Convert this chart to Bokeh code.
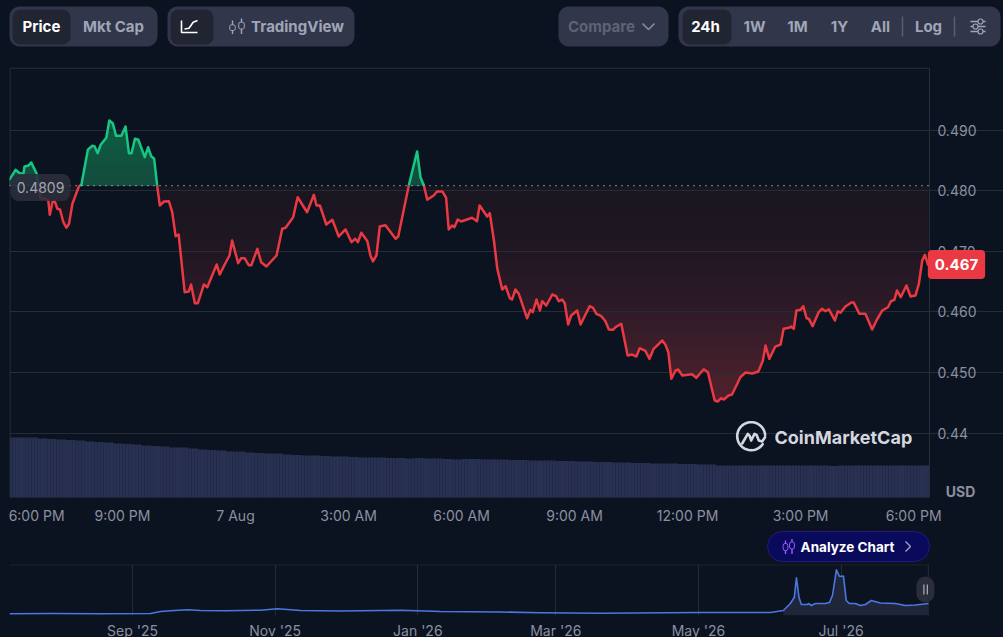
from bokeh.plotting import figure
from bokeh.layouts import column
from bokeh.models import Range1d, FixedTicker, Label, BoxAnnotation
from bokeh.core.properties import value
from bokeh.embed import file_html
from bokeh.resources import INLINE
import numpy as np

# ---- data ----
hours = [0,.16,.27,.37,.40,.49,.58,.67,.72,.82,.93,1.03,1.07,1.14,1.20,1.27,1.34,1.43,1.51,1.58,1.67,1.84,1.91,
 2.08,2.20,2.26,2.34,2.42,2.57,2.65,2.74,2.83,2.97,3.08,3.17,3.24,3.33,3.42,3.59,3.68,3.76,3.84,3.92,3.99,
 4.10,4.23,4.32,4.41,4.49,4.65,4.76,4.82,4.92,5.00,5.16,5.25,5.50,5.58,5.73,5.84,5.91,6.07,6.15,6.24,6.35,6.42,
 6.58,6.68,6.82,7.09,7.24,7.33,7.53,7.65,7.90,8.08,8.15,8.24,8.41,8.57,8.74,8.92,9.08,9.18,9.25,9.34,9.50,9.58,
 9.65,9.74,9.83,9.98,10.25,10.32,10.60,10.82,10.91,11.0,11.09,11.26,11.35,11.49,11.59,11.66,11.75,11.81,11.90,11.99,
 12.28,12.41,12.48,12.68,12.75,12.86,12.95,13.08,13.17,13.28,13.34,13.43,13.52,13.74,13.83,13.89,13.99,14.08,14.14,
 14.25,14.41,14.51,14.58,14.67,14.74,14.83,14.91,15.07,15.16,15.40,15.49,15.58,15.71,15.82,15.91,16.02,16.09,16.24,
 16.41,16.53,16.64,16.73,16.88,16.99,17.10,17.33,17.41,17.49,17.57,17.68,17.75,17.86,18.12,18.23,18.43,18.54,18.72,
 18.80,18.89,18.96,19.09,19.18,19.32,19.40,19.54,19.72,19.88,20.0,20.07,20.17,20.33,20.47,20.55,20.69,20.75,20.82,
 20.89,21.0,21.07,21.16,21.22,21.32,21.48,21.57,21.66,21.75,21.91,21.99,22.06,22.19,22.35,22.41,22.56,22.72,22.90,
 23.03,23.17,23.32,23.40,23.49,23.56,23.66,23.81,23.92,24.05,24.14,24.23,24.30,24.39]
prices = [.48185,.4835,.48294,.48289,.48405,.48416,.48471,.4835,.48289,.47876,.47876,.47843,.47607,.47815,.47831,.47706,.47694,.47484,.47392,.47458,.47788,.48074,.48107,
 .48681,.48747,.48736,.48625,.48764,.48879,.49165,.49121,.48912,.48912,.49066,.48625,.48625,.48863,.48846,.48559,.48724,.48575,.48532,.48091,.4776,
 .47826,.47831,.47649,.47253,.47281,.46327,.46339,.46454,.46145,.46145,.46454,.4641,.46785,.4662,.46806,.46934,.47182,.46806,.46889,.46889,.46773,.46773,
 .47044,.46823,.46752,.46934,.47375,.47392,.47567,.47897,.47649,.47937,.4776,.4776,.47446,.47524,.47248,.47364,.47154,.4721,.47154,.47309,.4717,.46934,
 .46835,.46934,.47413,.47435,.4721,.47248,.48091,.48653,.48228,.48091,.47854,.47926,.47992,.47992,.47888,.47364,.4743,.47402,.47529,.47496,
 .47557,.47501,.4776,.47578,.47633,.47182,.46714,.46372,.46426,.46228,.46206,.46372,.463,.45897,.46036,.45996,.46206,.46025,.46178,
 .46107,.46289,.46261,.46178,.46206,.46145,.45793,.45942,.46025,.45793,.46096,.46069,.4597,.4593,.45848,.4571,.45705,.45749,.45805,
 .45281,.45297,.45264,.45401,.45358,.45226,.45392,.45529,.45463,.45335,.44896,.45033,.45049,.4495,.44972,.44912,.45054,.45005,.44537,
 .4452,.44575,.44553,.4462,.44636,.44813,.44922,.45,.44983,.45016,.45198,.45446,.45226,.45429,.45463,.45722,.45739,.4576,.45722,
 .46025,.46036,.46096,.45897,.45887,.45765,.45996,.46053,.46013,.46046,.45859,.46013,.45987,.46091,.46157,.46157,.4597,.4597,.4571,
 .45876,.46025,.46079,.46178,.46201,.46355,.46244,.46438,.46256,.46272,.46466,.46851,.46945,.46768]
volume_15min = [60,60,60,59,58.5, 58,57.5,57,56,55.5, 55,54,53.5,53,52, 51.5,51,50,50,49, 48,47.5,47,46,46,
 45,44.5,44,44,43, 42.5,42,42,41.5,41, 41,40.5,40,40,40, 39.5,39.5,39,39.5,39, 39,38.5,38,38.5,38.5,
 38,38,38,37.5,37.5, 37,37,37,36.5,36.5, 36,36,35.5,35.5,35, 35,34.5,34.5,34,34, 34,33.5,33.5,33,33,
 32,32,32,32,32, 32,32,32,32,32, 32,32,31.5,32,32, 32,32,32,32,32, 32,32,32]
baseline_price = 0.4809
last_label = "0.467"
price_ticks = [0.44,0.45,0.46,0.47,0.48,0.49]
price_labels = ["0.44","0.450","0.460","0.470","0.480","0.490"]
time_ticks = [0.72,3,6,9,12,15,18,21,24]
time_labels = ["6:00 PM","9:00 PM","7 Aug","3:00 AM","6:00 AM","9:00 AM","12:00 PM","3:00 PM","6:00 PM"]
mini_days = [-52.6,-35.1,-13.7,7.7,12,16.2,23.5,29.1,39.8,54.7,62,71.8,88.9,114.6,131.7,157.3,174.4,200.1,242.8,272.8,278.3,
 281.3,283,283.9,285,286,288.6,289,290.3,292,296.3,298,299.3,301,302.3,304,305.2,306.5,309.1,311.2,313.4,315.9,319.8,326.2,330.5,334.8,340.3]
mini_vals = [1.7,2,1.7,2,4,4.7,5.7,5,4.7,5.3,6.7,5,4.5,5.3,4,3.5,2.7,2.3,3,3,5,
 12,18.3,37.7,18,11,11,12,10,12,12,13,20,45.7,39,39.5,15,12,12,10,11,15,12.5,12,10,10.5,12]
mini_ticks = [0,61,122,181,242,303]
mini_labels = ["Sep '25","Nov '25","Jan '26","Mar '26","May '26","Jul '26"]

BG = "#0c1320"
GRID = "#262b38"
EDGE = "#2b303d"
GREEN = "#16c784"
RED = "#ea3943"
AXIS = "#8b90a0"
FONT = "Inter"
W = 1003

# ---- top control bar ----
def chrome(h, y0, y1):
    f = figure(width=W, height=h, output_backend="svg", toolbar_location=None,
               x_range=Range1d(0, W), y_range=Range1d(y1, y0), min_border=0, frame_align=False,
               background_fill_color=BG, border_fill_color=BG, outline_line_color=None)
    f.xaxis.visible = False; f.yaxis.visible = False; f.grid.visible = False
    return f

def box(f, l, r, t, b, color, radius=10, line=None):
    f.add_layout(BoxAnnotation(left=l, right=r, top=t, bottom=b, fill_color=color, fill_alpha=1,
                               line_color=line, line_alpha=1 if line else 0, border_radius=radius, level="underlay"))

def txt(f, x, y, s, color, size=15, bold=True, align="center"):
    f.text([x], [y], text=[s], text_color=color, text_font=value(FONT), text_font_size=f"{size}px",
           text_font_style="bold" if bold else "normal", text_align=align, text_baseline="middle")

top = chrome(66, 0, 66)
OUT, INN, T2 = "#32364a", "#212431", "#a0a5b8"
box(top, 9, 157, 46, 6, OUT); box(top, 12, 70, 44, 9, INN, 8)
box(top, 167, 354, 46, 6, OUT); box(top, 170, 213, 44, 9, INN, 8)
box(top, 558, 668, 46, 6, OUT)
box(top, 678, 1000, 46, 6, OUT); box(top, 682, 731, 44, 9, INN, 8)
txt(top, 41, 26, "Price", "#ffffff")
txt(top, 113, 26, "Mkt Cap", T2)
txt(top, 297, 26, "TradingView", T2)
txt(top, 601, 26, "Compare", "#5f6375")
for x, s, c in [(705,"24h","#ffffff"),(754,"1W",T2),(797,"1M",T2),(839,"1Y",T2),(880,"All",T2),(928,"Log",T2)]:
    txt(top, x, 26, s, c)
for x in (902, 954):
    top.line([x, x], [16, 36], line_color="#5a5e70", line_width=1.5)
top.line([181,181,197], [20,32,32], line_color="#ffffff", line_width=1.6)
top.line([184,188.5,192.7,197], [28.5,27.7,21.7,20], line_color="#ffffff", line_width=1.6)
for xc, t, b, wt, wb in [(232,24.3,30,20,33.5),(241,21.7,28.5,18,33.5)]:
    top.line([xc,xc],[wt,t],line_color=T2,line_width=1.4); top.line([xc,xc],[b,wb],line_color=T2,line_width=1.4)
    box(top, xc-2.8, xc+2.8, b, t, OUT, 2, T2)
top.line([642,648,654],[23,29,23],line_color="#8a8ea0",line_width=1.5)
for y, xc in [(21,980),(26,975),(31,980)]:
    top.line([970,985],[y,y],line_color=T2,line_width=1.3)
    top.scatter([xc],[y],size=5,fill_color=OUT,line_color=T2,line_width=1.2)

# ---- main chart ----
# The frame runs to the page edge; the price axis sits at the chart's right edge.
HOUR_END, PPX = 24.42, 6050.0
p = figure(width=W, height=464, output_backend="svg", toolbar_location=None,
           x_range=Range1d(0, 26.387), y_range=Range1d(0.42934, 0.50041),
           y_axis_location="right", min_border_left=9, min_border_right=0,
           min_border_top=1, min_border_bottom=33, frame_align=False,
           background_fill_color=BG, border_fill_color=BG, outline_line_color=None)
def fx(x): return (np.asarray(x, float) - 9) / 37.67
def fy(y): return 0.49 - (np.asarray(y, float) - 130) / PPX

xd = np.linspace(hours[0], hours[-1], 1400)
pd_ = np.interp(xd, hours, prices)
stops_y = [185,250,300,350,402]
stops_rgb = np.array([[25,22,32],[32,23,34],[45,26,39],[62,30,42],[82,34,43]])
def red_at(y):
    return "#%02x%02x%02x" % tuple(int(round(np.interp(y, stops_y, stops_rgb[:, i]))) for i in range(3))
for y in np.arange(186, 402, 4):
    L = float(fy(y))
    p.varea(xd, np.minimum(pd_, L), np.full_like(xd, L), fill_color=red_at(y), level="image")
for y, col in zip(np.arange(118, 185, 6), np.linspace(0, 1, 12)):
    L = float(fy(y))
    c = "#%02x%02x%02x" % (int(12+8*col), int(94-18*col), int(66-4*col))
    p.varea(xd, np.full_like(xd, baseline_price), np.maximum(np.minimum(pd_, L), baseline_price), fill_color=c, level="image")

vol = np.repeat(volume_15min, 3)[:293]
vol_x = (np.arange(len(vol)) + 0.5) * (0.25 / 3)
p.extra_y_ranges = {"vol": Range1d(0, 430)}
p.vbar(x=vol_x, top=vol, width=0.25/3, bottom=0, y_range_name="vol", fill_color="#283152", line_color=None)

# chart border
ytop, ybot = float(fy(67.7)), float(fy(497))
xl, xr = float(fx(9.5)), HOUR_END
p.line([xl, xr, xr], [ytop, ytop, ybot], line_color=EDGE, line_width=1)
p.line([xl, xl], [ytop, ybot], line_color=EDGE, line_width=1)
p.line([xl, xr], [ybot, ybot], line_color=EDGE, line_width=1)

# split the price line where it crosses the open price
seg_x, seg_y = [hours[0]], [prices[0]]
above = prices[0] >= baseline_price
def flush(a):
    p.line(seg_x, seg_y, line_color=GREEN if a else RED, line_width=2.5, line_join="round")
for i in range(1, len(hours)):
    now = prices[i] >= baseline_price
    if now != above:
        t = (baseline_price - prices[i-1]) / (prices[i] - prices[i-1])
        xc = hours[i-1] + t * (hours[i] - hours[i-1])
        seg_x.append(xc); seg_y.append(baseline_price); flush(above)
        seg_x, seg_y = [xc], [baseline_price]; above = now
    seg_x.append(hours[i]); seg_y.append(prices[i])
flush(above)

p.line([0, HOUR_END], [baseline_price]*2, line_color="#c8ccd6", line_dash="1 5", line_width=1.2)
p.ygrid.ticker = FixedTicker(ticks=price_ticks); p.ygrid.grid_line_color = GRID
p.ygrid.bounds = (0, HOUR_END)
p.xgrid.visible = False
ya = p.yaxis[0]; ya.ticker = FixedTicker(ticks=price_ticks)
ya.fixed_location = HOUR_END
ya.major_label_overrides = dict(zip(price_ticks, price_labels))
xa = p.xaxis[0]; xa.ticker = FixedTicker(ticks=time_ticks)
xa.major_label_overrides = dict(zip(time_ticks, time_labels))
for a in (xa, ya):
    a.axis_line_color = None; a.major_tick_line_color = None; a.minor_tick_line_color = None
    a.major_tick_out = 0; a.major_tick_in = 0; a.minor_tick_out = 0; a.minor_tick_in = 0
    a.major_label_text_color = AXIS; a.major_label_text_font = FONT; a.major_label_text_font_size = "14px"
ya.major_label_standoff = 8; xa.major_label_standoff = 9

def lab(x, y, s, color, size, bold=False, bg=None, alpha=1, pad=0, radius=0, align="center", level="annotation"):
    p.add_layout(Label(x=x - 9, y=497 - y, x_units="screen", y_units="screen", text=s, text_color=color, text_font=FONT,
                       text_font_size=f"{size}px", text_font_style="bold" if bold else "normal",
                       text_align=align, text_baseline="middle", background_fill_color=bg, level=level,
                       background_fill_alpha=alpha, padding=pad, border_radius=radius))
lab(40, 187, "0.4809", "#a3a6b2", 14, bg="#2b2e3b", alpha=0.88, pad=dict(x=6, y=8), radius=8)
lab(956, 264, last_label, "#ffffff", 15, bold=True, bg=RED, pad=dict(x=7, y=9), radius=4, level="overlay")
lab(960, 491, "USD", AXIS, 14, bold=True, level="overlay")
lab(774, 437, "CoinMarketCap", "#d4d7df", 18, bold=True, align="left")

# watermark logo
a = np.radians(np.linspace(35, 355, 50))
p.line(fx(750.7 + 14*np.cos(a)), fy(435.7 + 14*np.sin(a)), line_color="#d4d7df", line_width=2.6, line_cap="round")
p.line(fx([741.7,747.3,749.3,750.7,754,756,758.3,761.7,764.5]), fy([443,433.3,435.7,440,433.3,434.3,440,441,436.7]),
       line_color="#d4d7df", line_width=2.6, line_join="round", line_cap="round")

# ---- Analyze Chart strip ----
mid = chrome(34, 530, 564)
box(mid, 767, 929, 561, 531, "#0a0a5c", 15, "#2a1878")
PUR = "#9a5cff"
for xc, t, b, wt, wb in [(785,543,550,540,553.5),(791.5,541.5,548.5,538.5,553.5)]:
    mid.line([xc,xc],[wt,t],line_color=PUR,line_width=1.4); mid.line([xc,xc],[b,wb],line_color=PUR,line_width=1.4)
    box(mid, xc-2.4, xc+2.4, b, t, "#0a0a5c", 2, PUR)
txt(mid, 847, 546, "Analyze Chart", "#ffffff", 13.5)
mid.line([905,910,905],[541,546,551],line_color="#a0a5b8",line_width=1.4)

# ---- range navigator ----
m = figure(width=W, height=77, output_backend="svg", toolbar_location=None,
           x_range=Range1d(-52.6, 345.5), y_range=Range1d(0, 51), frame_align=False,
           min_border_left=9, min_border_right=63, min_border_top=0, min_border_bottom=26,
           background_fill_color=BG, border_fill_color=BG, outline_line_color=None)
m.yaxis.visible = False; m.ygrid.visible = False
m.xgrid.ticker = FixedTicker(ticks=mini_ticks); m.xgrid.grid_line_color = GRID
m.line([-52.6, 340.3], [50.7, 50.7], line_color=GRID, line_width=1)
m.line([340.3, 340.3], [0, 51], line_color=GRID, line_width=1)
m.varea(mini_days[20:], [0]*len(mini_days[20:]), mini_vals[20:], fill_color="#20263a")
m.line(mini_days, mini_vals, line_color="#4a78e0", line_width=1.6, line_join="round")
ma = m.xaxis[0]; ma.ticker = FixedTicker(ticks=mini_ticks)
ma.major_label_overrides = dict(zip(mini_ticks, mini_labels))
ma.axis_line_color = None; ma.major_tick_line_color = None; ma.minor_tick_line_color = None
ma.major_tick_out = 0; ma.major_tick_in = 0; ma.minor_tick_out = 0; ma.minor_tick_in = 0
ma.major_label_text_color = AXIS; ma.major_label_text_font = FONT; ma.major_label_text_font_size = "14px"
ma.major_label_standoff = 6
def mx(x): return (x - 132) / 2.339
def my(y): return 615 - y
m.add_layout(BoxAnnotation(left=mx(916), right=mx(934), top=my(576), bottom=my(602), fill_color="#2a2e3a",
                           fill_alpha=1, line_alpha=0, border_radius=9, level="underlay"))
m.line([mx(923.5)]*2, [my(584), my(594)], line_color="#a0a5b8", line_width=1.3)
m.line([mx(927)]*2, [my(584), my(594)], line_color="#a0a5b8", line_width=1.3)

page = column(top, p, mid, m, spacing=0)
html = file_html(page, INLINE)
html = html.replace("</head>", "<style>html,body{margin:0;background:" + BG + ";overflow:hidden}</style></head>", 1)
open("out.html", "w").write(html)
